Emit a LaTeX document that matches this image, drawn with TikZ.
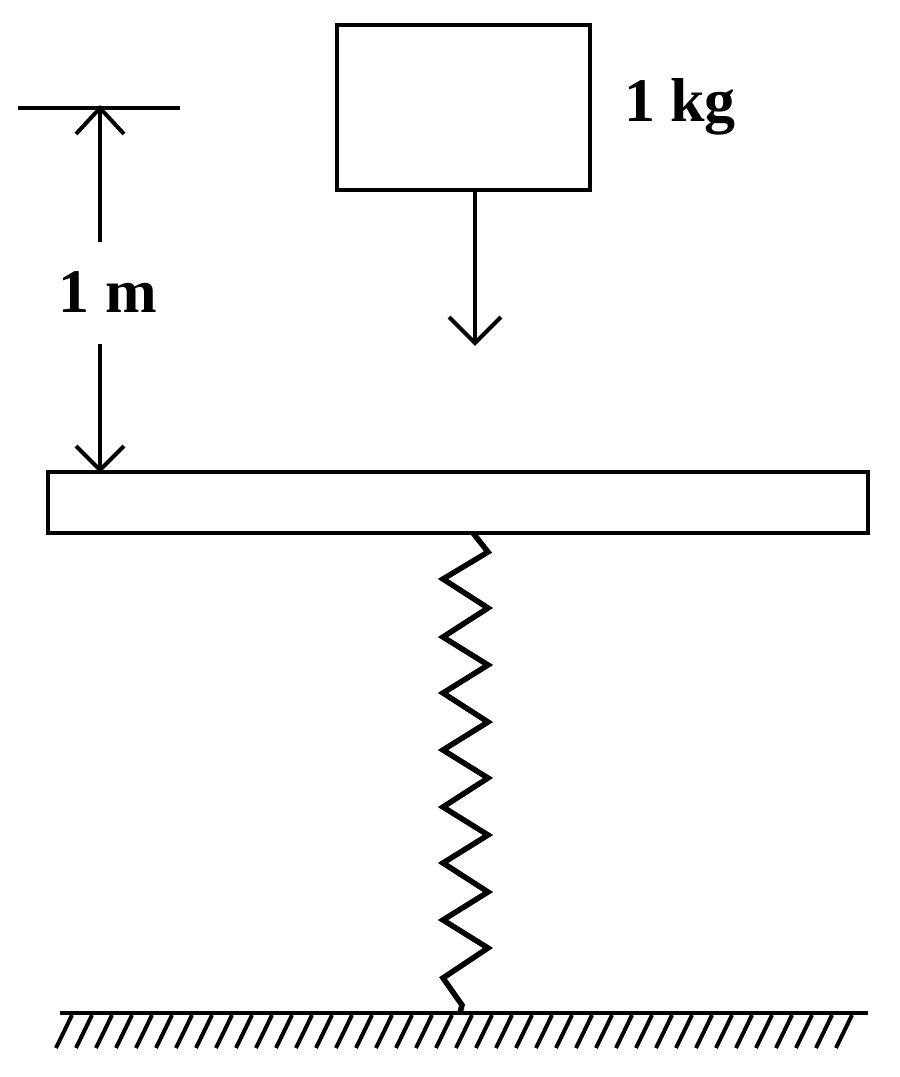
\documentclass[tikz,border=0pt]{standalone}
\usepackage{fontspec}
\setmainfont{Liberation Serif}
\begin{document}
\begin{tikzpicture}[x=1pt,y=-1pt,line width=4.5pt,
  lbl/.style={font=\fontsize{62}{64}\selectfont\bfseries,inner sep=0},
  tip/.style={line width=4pt}]
\useasboundingbox (0,0) rectangle (900,1077);
\node[draw,line width=4.5pt,minimum width=253pt,minimum height=165pt,inner sep=0] (mass) at (463.5,107.5) {};
\node[lbl] (kg) at (680,107) {1 kg};
\coordinate (fe) at (475,343);
\draw (mass.south -| fe) -- (fe);
\draw[tip] (449,317) -- (fe) -- (501,317);
\coordinate (t1) at (18,108); \coordinate (t2) at (180,108);
\draw (t1) -- (t2);
\node[lbl] (m) at (108,292) {1 m};
\coordinate (a1) at (100,108); \coordinate (a2) at (100,470);
\draw (a1) -- (100,242);
\draw (100,344) -- (a2);
\draw[tip] (76,134) -- (a1) -- (124,134);
\draw[tip] (76,446) -- (a2) -- (124,446);
\node[draw,line width=4.5pt,minimum width=820pt,minimum height=61pt,inner sep=0] (plate) at (458,502.5) {};
\coordinate (g1) at (60,1013); \coordinate (g2) at (868,1013);
\coordinate (se) at (460,1013);
\draw[line width=5.5pt,line join=miter] (473,533) -- (488,552) -- (443,579) -- (488,608) -- (443,637) -- (488,665) -- (443,693) -- (488,722) -- (443,750) -- (488,778) -- (443,807) -- (488,835) -- (443,863) -- (488,892) -- (443,920) -- (488,948) -- (443,978) -- (462,1005) -- (se);
\draw (g1) -- (g2);
\foreach \i in {0,...,39} \draw[line width=4pt] (72+20*\i,1015) -- (56+20*\i,1048);
\end{tikzpicture}
\end{document}
